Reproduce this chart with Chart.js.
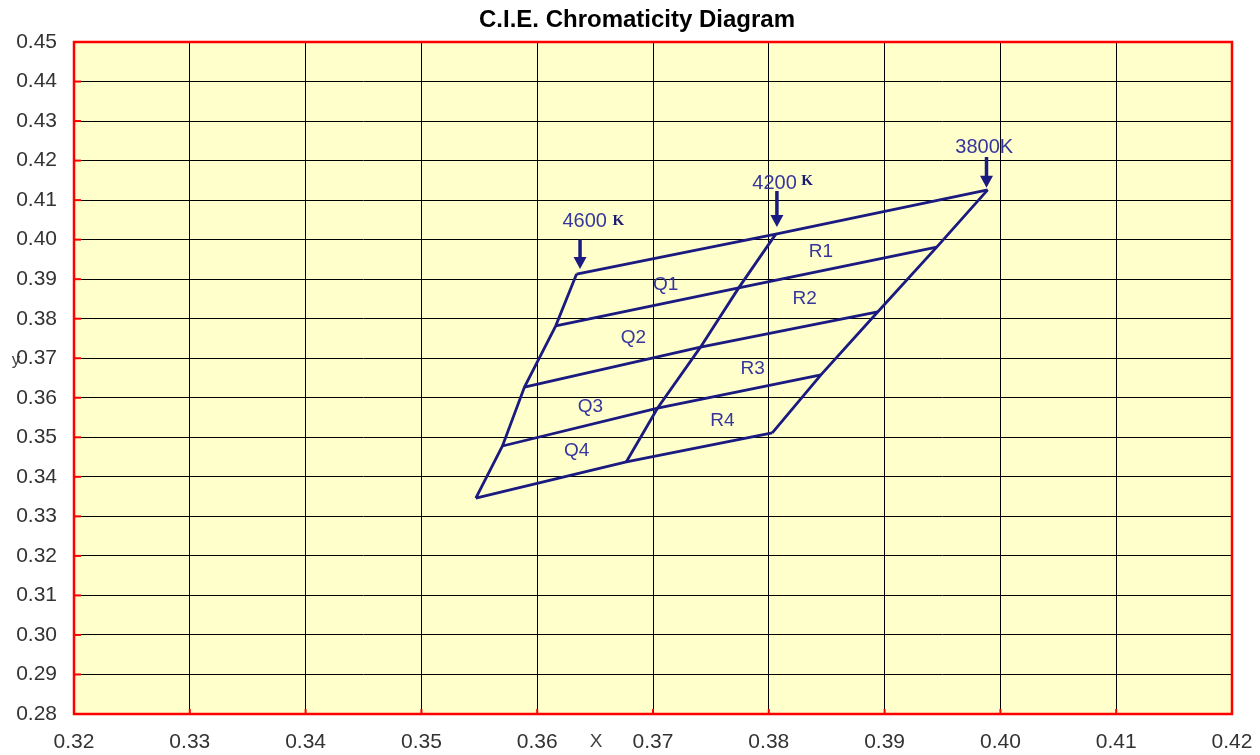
<!DOCTYPE html>
<html>
<head>
<meta charset="utf-8">
<title>C.I.E. Chromaticity Diagram</title>
<script src="https://cdn.jsdelivr.net/npm/chart.js@4.4.1/dist/chart.umd.min.js"></script>
<style>
  html, body { margin: 0; padding: 0; background: #fff; }
</style>
</head>
<body>
<canvas id="cie" width="1260" height="755"></canvas>
<script>
// === DATA ===
const xRange = [0.32, 0.42];
const yRange = [0.28, 0.45];
const tickStep = 0.01;

// bin grid nodes, top row to bottom row
const leftX  = [0.3634, 0.3616, 0.3589, 0.3570, 0.3547];
const leftY  = [0.3913, 0.3782, 0.3627, 0.3478, 0.3346];
const midX   = [0.3806, 0.3774, 0.3741, 0.3704, 0.3677];
const midY   = [0.4014, 0.3878, 0.3728, 0.3574, 0.3438];
const rightX = [0.3989, 0.3945, 0.3894, 0.3845, 0.3803];
const rightY = [0.4126, 0.3981, 0.3817, 0.3658, 0.3511];

// bin names
const binNames = ["Q1", "Q2", "Q3", "Q4", "R1", "R2", "R3", "R4"];
const binX = [0.3711, 0.3683, 0.3646, 0.3634, 0.3845, 0.3831, 0.3786, 0.3760];
const binY = [0.3885, 0.3751, 0.3577, 0.3465, 0.3969, 0.3850, 0.3673, 0.3541];

// colour temperature markers
const cctNames  = ["4600", "4200", "3800K"];
const cctLabelX = [0.3641, 0.3805, 0.3986];
const cctLabelY = [0.4045, 0.4143, 0.4232];
const cctKX     = [0.3670, 0.3833, null];   // separate serif "K"
const cctKY     = [0.4046, 0.4148, null];
const arrowX    = [0.3637, 0.3807, 0.3988];
const arrowTop  = [0.4000, 0.4123, 0.4209];
const arrowTip  = [0.3926, 0.4032, 0.4131];

const LINE = "#1a1a80";
const LABEL = "#36369c";

// === DATASETS ===
function pts(xs, ys) {
  return xs.map((x, i) => ({ x: x, y: ys[i] }));
}
const datasets = [];
for (let i = 0; i < leftX.length; i++) {
  datasets.push({ data: pts([leftX[i], midX[i], rightX[i]], [leftY[i], midY[i], rightY[i]]) });
}
datasets.push({ data: pts(leftX, leftY) });
datasets.push({ data: pts(midX, midY) });
datasets.push({ data: pts(rightX, rightY) });
datasets.forEach(d => {
  d.showLine = true;
  d.borderColor = LINE;
  d.borderWidth = 2.8;
  d.pointRadius = 0;
  d.tension = 0;
});

// === DECOR PLUGIN ===
const decor = {
  id: "decor",
  beforeDraw(chart) {
    const { ctx, chartArea: a } = chart;
    ctx.save();
    ctx.fillStyle = "#ffffcc";
    ctx.fillRect(a.left, a.top, a.right - a.left, a.bottom - a.top);
    ctx.restore();
  },
  afterDatasetsDraw(chart) {
    const { ctx } = chart;
    const xs = chart.scales.x, ys = chart.scales.y;
    ctx.save();
    // arrows
    ctx.strokeStyle = LINE;
    ctx.fillStyle = LINE;
    arrowX.forEach((x, i) => {
      const px = xs.getPixelForValue(x);
      const top = ys.getPixelForValue(arrowTop[i]);
      const tip = ys.getPixelForValue(arrowTip[i]);
      ctx.lineWidth = 3.5;
      ctx.beginPath();
      ctx.moveTo(px, top);
      ctx.lineTo(px, tip - 9);
      ctx.stroke();
      ctx.beginPath();
      ctx.moveTo(px - 6.5, tip - 12);
      ctx.lineTo(px + 6.5, tip - 12);
      ctx.lineTo(px, tip);
      ctx.closePath();
      ctx.fill();
    });
    // temperature labels
    ctx.textAlign = "center";
    ctx.textBaseline = "middle";
    cctNames.forEach((t, i) => {
      ctx.fillStyle = LABEL;
      ctx.font = "20px 'Liberation Sans', Arial, sans-serif";
      ctx.fillText(t, xs.getPixelForValue(cctLabelX[i]), ys.getPixelForValue(cctLabelY[i]));
      if (cctKX[i] != null) {
        ctx.fillStyle = "#1a1a70";
        ctx.font = "bold 15px 'Liberation Serif', 'Times New Roman', serif";
        ctx.fillText("K", xs.getPixelForValue(cctKX[i]), ys.getPixelForValue(cctKY[i]));
      }
    });
    // bin labels
    ctx.fillStyle = LABEL;
    ctx.font = "19px 'Liberation Sans', Arial, sans-serif";
    binNames.forEach((n, i) => {
      ctx.fillText(n, xs.getPixelForValue(binX[i]), ys.getPixelForValue(binY[i]));
    });
    ctx.restore();
  },
  afterDraw(chart) {
    const { ctx, chartArea: a } = chart;
    ctx.save();
    // red frame
    ctx.strokeStyle = "#ff0000";
    ctx.lineWidth = 2.5;
    ctx.strokeRect(a.left, a.top, a.right - a.left, a.bottom - a.top);
    // little red inner tick marks
    ctx.lineWidth = 2;
    chart.scales.y.ticks.forEach((t, i) => {
      const py = chart.scales.y.getPixelForTick(i);
      ctx.beginPath(); ctx.moveTo(a.left, py); ctx.lineTo(a.left + 7, py); ctx.stroke();
    });
    chart.scales.x.ticks.forEach((t, i) => {
      const px = chart.scales.x.getPixelForTick(i);
      ctx.beginPath(); ctx.moveTo(px, a.bottom); ctx.lineTo(px, a.bottom - 5); ctx.stroke();
    });
    // title
    ctx.fillStyle = "#000";
    ctx.textAlign = "center";
    ctx.textBaseline = "middle";
    ctx.font = "bold 24px 'Liberation Sans', Arial, sans-serif";
    ctx.fillText("C.I.E. Chromaticity Diagram", 637, 20);
    // axis names
    ctx.fillStyle = "#444";
    ctx.font = "19px 'Liberation Sans', Arial, sans-serif";
    ctx.fillText("X", 596, a.bottom + 28);
    ctx.font = "17px 'Liberation Sans', Arial, sans-serif";
    ctx.fillText("y", 16, chart.scales.y.getPixelForValue(0.3696));
    ctx.restore();
  }
};

// === CHART ===
const tickFont = { family: "'Liberation Sans', Arial, sans-serif", size: 21 };

new Chart(document.getElementById("cie"), {
  type: "scatter",
  data: { datasets: datasets },
  options: {
    responsive: false,
    animation: false,
    layout: { padding: { top: 42, right: 28, left: 0, bottom: 0 } },
    plugins: { legend: { display: false }, tooltip: { enabled: false } },
    scales: {
      x: {
        type: "linear",
        min: xRange[0],
        max: xRange[1],
        afterFit: s => { s.height = 41; s.paddingLeft = 0; s.paddingRight = 0; },
        ticks: {
          stepSize: tickStep,
          autoSkip: false,
          maxRotation: 0,
          padding: 16,
          color: "#333",
          font: tickFont,
          callback: v => Number(v).toFixed(2)
        },
        grid: { color: "#000", lineWidth: 1, drawTicks: false },
        border: { display: false }
      },
      y: {
        type: "linear",
        min: yRange[0],
        max: yRange[1],
        afterFit: s => { s.width = 74; s.paddingTop = 0; s.paddingBottom = 0; },
        ticks: {
          stepSize: tickStep,
          autoSkip: false,
          padding: 17,
          color: "#333",
          font: tickFont,
          callback: v => Number(v).toFixed(2)
        },
        grid: { color: "#000", lineWidth: 1, drawTicks: false },
        border: { display: false }
      }
    }
  },
  plugins: [decor]
});
</script>
</body>
</html>
